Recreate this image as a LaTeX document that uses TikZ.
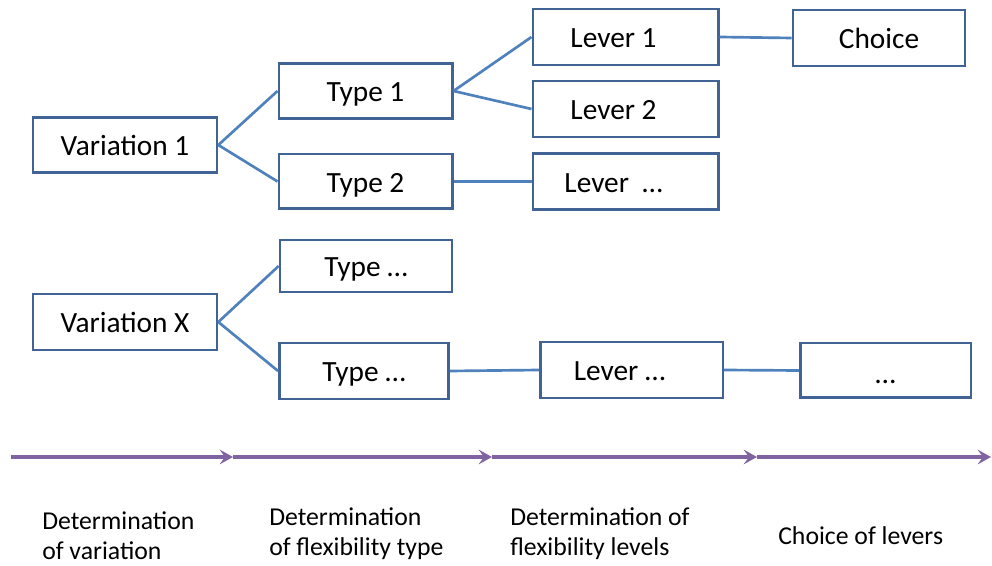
\documentclass[tikz,border=0pt]{standalone}
\usepackage{fontspec}
\setmainfont{Carlito}
\usetikzlibrary{arrows.meta}
\definecolor{boxblue}{rgb}{0.255, 0.388, 0.584}
\definecolor{linkblue}{rgb}{0.310, 0.506, 0.741}
\definecolor{purple}{rgb}{0.502, 0.392, 0.635}

\tikzset{
  stagebox/.style={draw=boxblue,line width=2pt,fill=white,inner sep=0pt,
    text height=18.5pt,text depth=2pt,
    font=\fontsize{22}{24}\selectfont},
  link/.style={draw=linkblue,line width=2pt},
  phase/.style={draw=purple,line width=2.4pt,-{Stealth[length=10pt,width=11pt,inset=4pt]}},
  phaselabel/.style={anchor=west,align=left,inner sep=0pt,
    font=\fontsize{19.3}{22.5}\selectfont}
}
% lever labels sit left of the box centre
\newcommand\levertext[1]{#1\hspace*{18pt}}

\begin{document}
\begin{tikzpicture}[x=0.75pt,y=-0.75pt]
\useasboundingbox (0,0) rectangle (992,566);

% first variation
\node[stagebox,minimum width=138pt,minimum height=41pt] (var1) at (125,145) {Variation 1};
\node[stagebox,minimum width=130pt,minimum height=41pt] (type1) at (365.5,91) {Type 1};
\node[stagebox,minimum width=130pt,minimum height=41pt] (type2) at (365.5,181.5) {Type 2};
\node[stagebox,minimum width=139pt,minimum height=42pt] (lev1) at (625.5,37) {\levertext{Lever 1}};
\node[stagebox,minimum width=139pt,minimum height=42pt] (lev2) at (625.5,109) {\levertext{Lever 2}};
\node[stagebox,minimum width=139pt,minimum height=42pt] (lev3) at (625.5,181.5) {\levertext{Lever\ \ \dots}};
\node[stagebox,minimum width=129pt,minimum height=42pt] (choice1) at (879,38) {Choice};

% second variation
\node[stagebox,minimum width=138pt,minimum height=42pt] (varx) at (125,322) {Variation X};
\node[stagebox,minimum width=129pt,minimum height=39pt] (type3) at (366,266) {Type \dots};
\node[stagebox,minimum width=127pt,minimum height=42pt] (type4) at (364,371) {Type \dots};
\node[stagebox,minimum width=137pt,minimum height=42pt] (lev4) at (631.5,370) {\levertext{Lever \dots}};
\node[stagebox,minimum width=128pt,minimum height=41pt,text height=20pt,text depth=0pt] (choice2) at (885.5,370.5) {\dots};

% connectors
\draw[link] (var1.east) -- (type1.west);
\draw[link] (var1.east) -- (type2.west);
\draw[link] (type1.east) -- (lev1.west);
\draw[link] (type1.east) -- (lev2.west);
\draw[link] (type2.east) -- (lev3.west);
\draw[link] (lev1.east) -- (choice1.west);
\draw[link] (varx.east) -- (type3.west);
\draw[link] (varx.east) -- (type4.west);
\draw[link] (type4.east) -- (lev4.west);
\draw[link] (lev4.east) -- (choice2.west);

% phase axis
\coordinate (p0) at (11,457);
\coordinate (p1) at (233,457);
\coordinate (p2) at (492,457);
\coordinate (p3) at (757,457);
\coordinate (p4) at (991,457);
\draw[phase] (p0) -- (p1);
\draw[phase] (p1) -- (p2);
\draw[phase] (p2) -- (p3);
\draw[phase] (p3) -- (p4);

% phase labels
\node[phaselabel] (lab1) at (42,536) {Determination\\of variation};
\node[phaselabel] (lab2) at (269,534) {Determination\\of flexibility type};
\node[phaselabel] (lab3) at (510,534) {Determination of\\flexibility levels};
\node[phaselabel] (lab4) at (778,536) {Choice of levers};
\end{tikzpicture}
\end{document}
